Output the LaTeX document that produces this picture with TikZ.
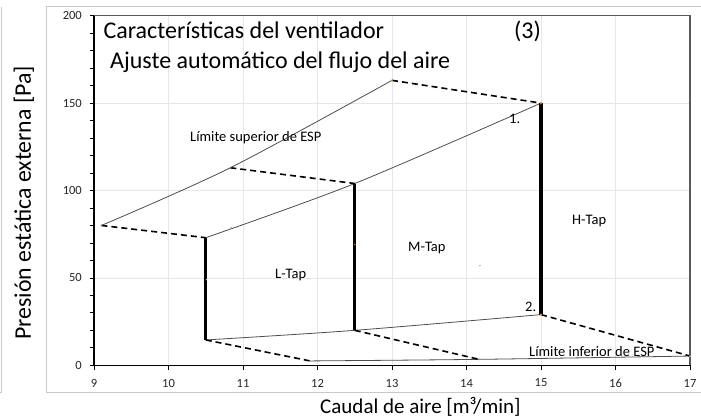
\documentclass[tikz,border=0pt]{standalone}
\usepackage{fontspec}
\setmainfont{Carlito}
\usepackage{tikz}

\definecolor{gridgray}{HTML}{E6E6E6}
\definecolor{framegray}{HTML}{C8C8C8}
\definecolor{boxgray}{HTML}{595959}
\definecolor{curvegray}{HTML}{4D4D4D}
\definecolor{dotorange}{HTML}{ED7D31}
\definecolor{dotgreen}{HTML}{70AD47}
\definecolor{dotblue}{HTML}{9DC3E6}

\begin{document}
\begin{tikzpicture}[x=1pt, y=1pt,
    title/.style ={inner sep=0pt, anchor=base west, font=\fontsize{24}{28}\selectfont},
    axistitle/.style ={inner sep=0pt, anchor=base west, font=\fontsize{21}{25}\selectfont},
    ticktext/.style ={inner sep=0pt, font=\fontsize{12.5}{15}\selectfont, text=black!85},
    zone/.style ={inner sep=0pt, anchor=base west, font=\fontsize{14.5}{17}\selectfont},
    gridline/.style ={draw=gridgray, line width=0.8pt},
    axisline/.style ={draw=black, line width=1.3pt},
    curve/.style ={draw=curvegray, line width=0.8pt},
    boundary/.style ={draw=black, line width=1.6pt, dash pattern=on 6pt off 4pt},
    tap/.style ={draw=black, line width=3.2pt}]
   \useasboundingbox (0,0) rectangle (701,418);
   % chart frames
   \draw[framegray, line width=1.2pt] (705,25.3) -- (46.5,25.3) -- (46.5,411.3) -- (705,411.3);
   \draw[framegray, line width=1.2pt] (1.5,411.3) -- (1.5,25.3) -- (0,25.3);

   \begin{scope}[xshift=-576.5pt, yshift=52.7pt, x=74.5pt, y=1.748pt]
   % grid
   \foreach \gx in {10,...,16} \draw[gridline] (\gx,0) -- (\gx,200);
   \foreach \gy in {50,100,150} \draw[gridline] (9,\gy) -- (17,\gy);
   % axes and ticks
   \draw[boxgray, line width=1.3pt] (9,200) -- (17,200) -- (17,0);
   \foreach \ty in {0,10,...,200} \draw[black, line width=0.8pt] (9,\ty) -- ++(-4.5pt,0);
   \foreach \tx in {9,...,17} \draw[black, line width=0.8pt] (\tx,0) -- ++(0,-4.5pt);
   \draw[axisline] (9,200) -- (9,0) -- (17,0);
   \foreach \ty in {0,50,...,200} \node[ticktext, anchor=east] at ([xshift=-12pt]9,\ty) {\ty};
   \foreach \tx in {9,...,17} \node[ticktext] at ([yshift=-17.7pt]\tx,0) {\tx};

   % data points
   \coordinate (U1) at (9.1,80);
   \coordinate (U2) at (10.83,113);
   \coordinate (U3) at (13,163);
   \coordinate (L1) at (10.5,73);
   \coordinate (M1) at (12.5,104);
   \coordinate (H1) at (15,150);
   \coordinate (L2) at (10.5,14.5);
   \coordinate (M2) at (12.5,20);
   \coordinate (H2) at (15,29);
   \coordinate (D1) at (11.9,2.5);
   \coordinate (D2) at (14.17,3.4);
   \coordinate (D3) at (17,5.3);

   % limit curves
   \draw[curve] plot[smooth] coordinates {(U1) (U2) (U3)};
   \draw[curve] plot[smooth] coordinates {(L1) (M1) (H1)};
   \draw[curve] plot[smooth] coordinates {(L2) (M2) (H2)};
   \draw[curve] plot[smooth] coordinates {(D1) (D2) (D3)};
   \draw[boundary] (U1) to (L1);
   \draw[boundary] (U2) to (M1);
   \draw[boundary] (U3) to (H1);
   \draw[boundary] (L2) to (D1);
   \draw[boundary] (M2) to (D2);
   \draw[boundary] (H2) to (D3);
   \draw[tap] (L1) to (L2);
   \draw[tap] (M1) to (M2);
   \draw[tap] (H1) to (H2);

   % small markers
   \fill[dotorange] (H1) circle (1.3pt);
   \fill[dotorange] (H2) circle (1.2pt);
   \fill[dotorange] (10.84,78.6) circle (0.9pt);
   \fill[dotorange] (12.5,69) circle (0.8pt);
   \fill[dotorange] (14.18,57) circle (0.8pt);
   \fill[dotblue] (10.51,49) circle (0.8pt);
   \fill[dotgreen] (U1) circle (1pt);
   \fill[dotgreen] (U2) circle (1pt);
   \fill[dotgreen] (U3) circle (1pt);
   \fill[dotgreen] (D2) circle (1pt);
   \fill[dotblue] (D3) circle (1pt);
   \end{scope}

   % texts
   \node[title] (T1) at (103.3,379.5) {Características del ventilador};
   \node[title] (T2) at (110,349.7) {Ajuste automático del flujo del aire};
   \node[title] (T3) at (514,379.5) {(3)};
   \node[zone] (S) at (190,276.3) {Límite superior de ESP};
   \node[zone] (I) at (529,62) {Límite inferior de ESP};
   \node[zone] (LT) at (275,139.7) {L-Tap};
   \node[zone] (MT) at (408,166.3) {M-Tap};
   \node[zone] (HT) at (572,193) {H-Tap};
   \node[zone] (N1) at (509,294) {1.};
   \node[zone] (N2) at (525,107) {2.};
   \node[axistitle] (X) at (320,5) {Caudal de aire [m³/min]};
   \node[axistitle, rotate=90, font=\fontsize{23.8}{28}\selectfont] (Y) at (31,78) {Presión estática externa [Pa]};
 \end{tikzpicture}
\end{document}
